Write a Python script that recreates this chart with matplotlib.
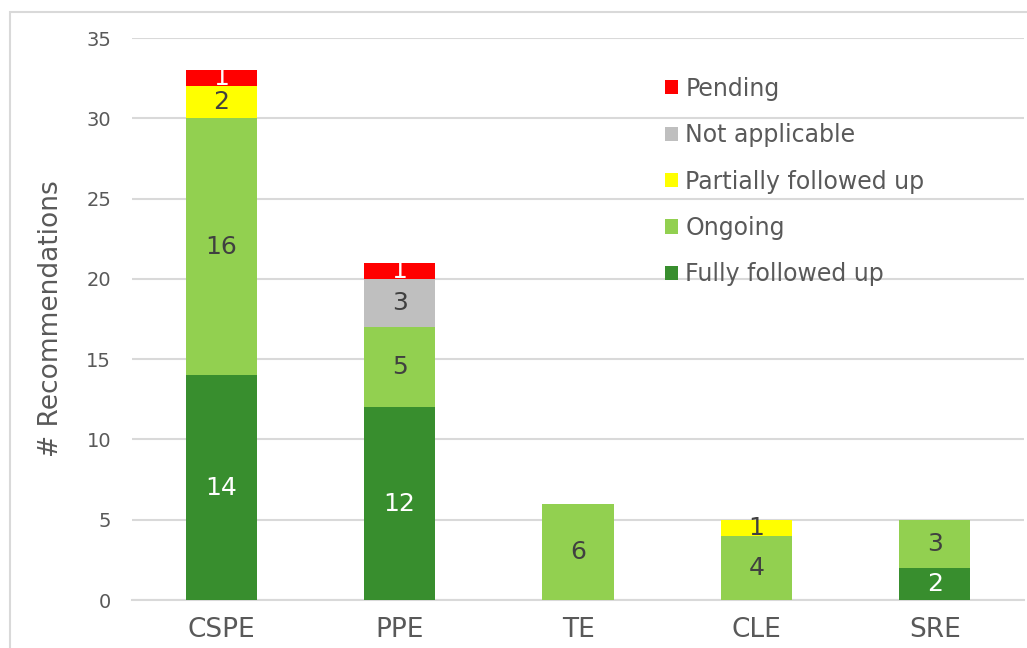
import matplotlib.pyplot as plt
from matplotlib.patches import Rectangle
import numpy as np

categories = ['CSPE', 'PPE', 'TE', 'CLE', 'SRE']
fully = [14, 12, 0, 0, 2]
ongoing = [16, 5, 6, 4, 3]
partial = [2, 0, 0, 1, 0]
not_applicable = [0, 3, 0, 0, 0]
pending = [1, 1, 0, 0, 0]

series = [
    ('Fully followed up', fully, '#388E2E', 'white'),
    ('Ongoing', ongoing, '#92D050', '#404040'),
    ('Partially followed up', partial, '#FFFF00', '#404040'),
    ('Not applicable', not_applicable, '#BFBFBF', '#404040'),
    ('Pending', pending, '#FF0000', 'white'),
]

fig = plt.figure(figsize=(10.27, 6.48), dpi=100)
fig.patches.append(Rectangle((10 / 1027, -0.1), 1.2, 1 - 12 / 648 + 0.1,
                             transform=fig.transFigure, fill=False,
                             edgecolor='#D9D9D9', linewidth=1.5))
ax = fig.add_axes([132 / 1027, 1 - 600 / 648, (1024 - 132) / 1027, (600 - 38) / 648])

x = np.arange(len(categories))
bottom = np.zeros(len(categories))
handles = []
for name, vals, color, tcolor in series:
    vals = np.array(vals, dtype=float)
    bars = ax.bar(x, vals, 0.4, bottom=bottom, color=color, label=name, zorder=3)
    handles.append(bars)
    for xi, v, b in zip(x, vals, bottom):
        if v > 0:
            ax.text(xi, b + v / 2, f'{int(v)}', ha='center', va='center',
                    fontsize=18, color=tcolor, zorder=4)
    bottom += vals

ax.set_xlim(-0.5, 4.5)
ax.set_ylim(0, 35)
ax.set_yticks(range(0, 36, 5))
ax.set_xticks(x)
ax.set_xticklabels(categories, fontsize=19, color='#595959')
ax.tick_params(axis='y', labelsize=14, labelcolor='#595959', length=0, pad=15)
ax.tick_params(axis='x', length=0, pad=12)
ax.grid(axis='y', color='#D9D9D9', linewidth=1.5, zorder=0)
for s in ['top', 'right', 'left']:
    ax.spines[s].set_visible(False)
ax.spines['bottom'].set_color('#D9D9D9')
ax.spines['bottom'].set_linewidth(1.5)
ax.set_ylabel('# Recommendations', fontsize=19, color='#595959', labelpad=16)

ax.legend(handles[::-1], [s[0] for s in series][::-1], loc='upper left',
          bbox_to_anchor=(0.574, 0.969), frameon=False, fontsize=17,
          labelcolor='#595959', handlelength=0.55, handleheight=0.55,
          handletextpad=0.3, labelspacing=0.95)

fig.savefig('out.png', dpi=100)
